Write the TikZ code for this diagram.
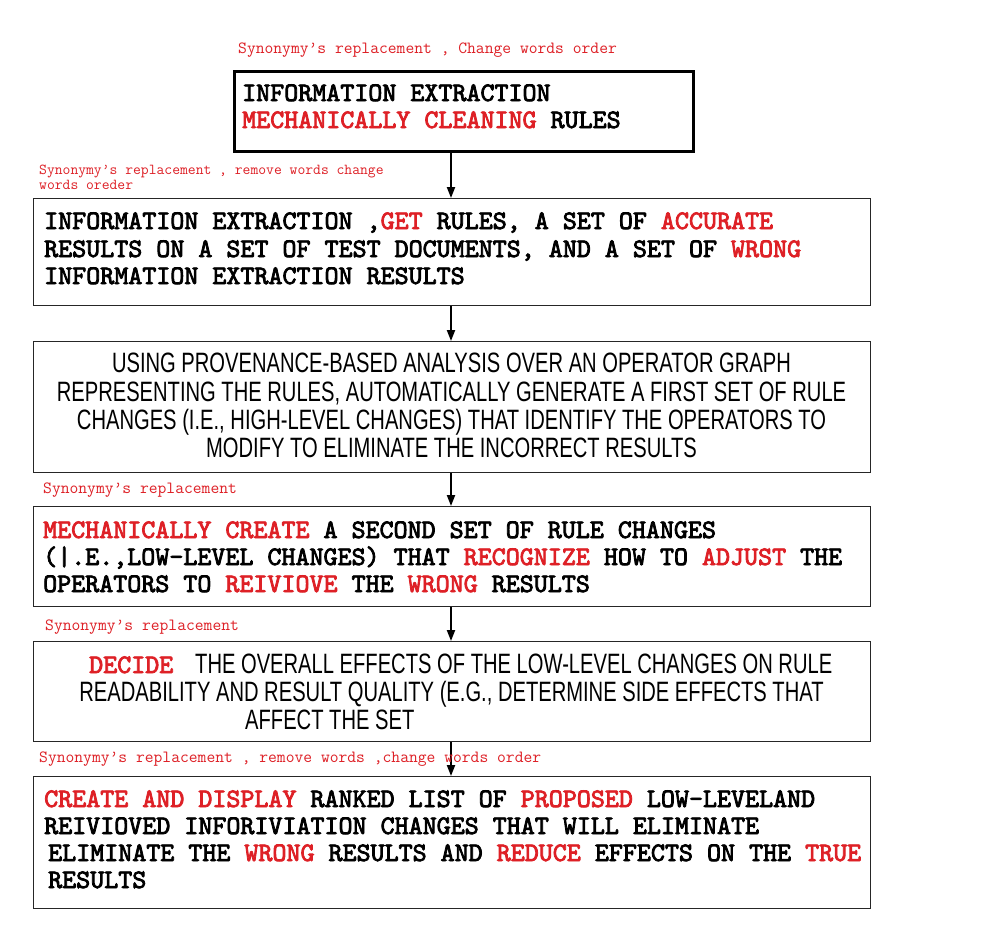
\documentclass[tikz,border=0pt]{standalone}
\usepackage{fontspec}
\usetikzlibrary{arrows.meta}
\newfontfamily\narrowsans[FakeStretch=0.72]{Liberation Sans}
\newfontfamily\lmbold{lmmono10-regular}[Extension=.otf, FakeBold=3]
\definecolor{rd}{RGB}{222,32,38}
\newcommand{\rw}[1]{\textcolor{rd}{#1}}
\begin{document}
\begin{tikzpicture}[x=1pt,y=-1pt,
  box/.style={draw=black!85, line width=1.4pt, inner sep=0, anchor=north west},
  thickbox/.style={draw=black, line width=3pt, inner sep=0, anchor=north west},
  mono/.style={inner sep=0, anchor=base west, font=\lmbold\fontsize{26.7}{26.7}\selectfont},
  sans/.style={inner sep=0, anchor=base, font=\narrowsans\fontsize{28}{28}\selectfont},
  sansw/.style={inner sep=0, anchor=base west, font=\narrowsans\fontsize{28}{28}\selectfont},
  lbl/.style={inner sep=0, anchor=base west, text=rd, font=\ttfamily\fontsize{17.1}{17.1}\selectfont},
  lbls/.style={inner sep=0, anchor=base west, text=rd, font=\ttfamily\fontsize{15.2}{15.2}\selectfont},
  arr/.style={draw=black, line width=2pt, -{Triangle[width=8pt,length=11pt]}}]
\useasboundingbox (0,0) rectangle (990,948);
\fill[white] (0,0) rectangle (990,948);
% boxes
\node[thickbox, minimum width=459pt, minimum height=80pt] (b1) at (233,70) {};
\node[box, minimum width=837pt, minimum height=107pt] (b2) at (33,198) {};
\node[box, minimum width=837pt, minimum height=131pt] (b3) at (33,341) {};
\node[box, minimum width=837pt, minimum height=100pt] (b4) at (33,506) {};
\node[box, minimum width=837pt, minimum height=100pt] (b5) at (33,641) {};
\node[box, minimum width=837pt, minimum height=132pt] (b6) at (33,776) {};
% arrows
\coordinate (ax) at (451,0);
\draw[arr] (b1.south -| ax) -- (b2.north -| ax);
\draw[arr] (b2.south -| ax) -- (b3.north -| ax);
\draw[arr] (b3.south -| ax) -- (b4.north -| ax);
\draw[arr] (b4.south -| ax) -- (b5.north -| ax);
\draw[arr] (b5.south -| ax) -- (b6.north -| ax);
% labels
\node[lbl] (l1) at (238,53) {Synonymy’s replacement , Change words order};
\node[lbls] (l2a) at (39,174) {Synonymy’s replacement , remove words change};
\node[lbls] (l2b) at (39,189) {words oreder};
\node[lbl] (l4) at (43,493) {Synonymy’s replacement};
\node[lbl] (l5) at (45,630) {Synonymy’s replacement};
\node[lbl] (l6) at (39,762) {Synonymy’s replacement , remove words ,change words order};
% box 1
\node[mono] (t1a) at (242,101) {INFORMATION EXTRACTION};
\node[mono] (t1b) at (242,128) {\rw{MECHANICALLY CLEANING} RULES};
% box 2
\node[mono] (t2a) at (44,229) {INFORMATION EXTRACTION ,\rw{GET} RULES, A SET OF \rw{ACCURATE}};
\node[mono] (t2b) at (44,257) {RESULTS ON A SET OF TEST DOCUMENTS, AND A SET OF \rw{WRONG}};
\node[mono] (t2c) at (44,284) {INFORMATION EXTRACTION RESULTS};
% box 3
\node[sans] (t3a) at (451.5,372) {USING PROVENANCE-BASED ANALYSIS OVER AN OPERATOR GRAPH};
\node[sans] (t3b) at (451.5,401) {REPRESENTING THE RULES, AUTOMATICALLY GENERATE A FIRST SET OF RULE};
\node[sans] (t3c) at (451.5,429) {CHANGES (I.E., HIGH-LEVEL CHANGES) THAT IDENTIFY THE OPERATORS TO};
\node[sans] (t3d) at (451.5,457) {MODIFY TO ELIMINATE THE INCORRECT RESULTS};
% box 4
\node[mono] (t4a) at (43,538) {\rw{MECHANICALLY CREATE} A SECOND SET OF RULE CHANGES};
\node[mono] (t4b) at (43,565) {(|.E.,LOW-LEVEL CHANGES) THAT \rw{RECOGNIZE} HOW TO \rw{ADJUST} THE};
\node[mono] (t4c) at (43,592) {OPERATORS TO \rw{REIVIOVE} THE \rw{WRONG} RESULTS};
% box 5
\node[mono, text=rd] (t5d) at (89,673) {DECIDE};
\node[sansw] (t5a) at (195,673) {THE OVERALL EFFECTS OF THE LOW-LEVEL CHANGES ON RULE};
\node[sans] (t5b) at (451.5,701) {READABILITY AND RESULT QUALITY (E.G., DETERMINE SIDE EFFECTS THAT};
\node[sansw] (t5c) at (245,729) {AFFECT THE SET};
% box 6
\node[mono] (t6a) at (44,807) {\rw{CREATE AND DISPLAY} RANKED LIST OF \rw{PROPOSED} LOW-LEVELAND};
\node[mono] (t6b) at (44,834) {REIVIOVED INFORIVIATION CHANGES THAT WILL ELIMINATE};
\node[mono] (t6c) at (48,861) {ELIMINATE THE \rw{WRONG} RESULTS AND \rw{REDUCE} EFFECTS ON THE \rw{TRUE}};
\node[mono] (t6d) at (48,888) {RESULTS};
\end{tikzpicture}
\end{document}
